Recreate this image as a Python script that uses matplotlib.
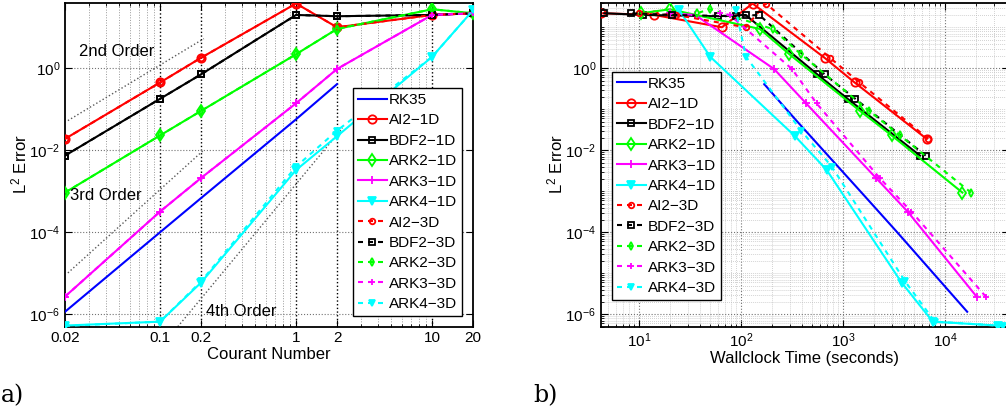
import numpy as np
import matplotlib
matplotlib.use('Agg')
import matplotlib.pyplot as plt
from matplotlib.ticker import FixedLocator, FixedFormatter, LogLocator, NullFormatter

plt.rcParams['font.family'] = ['Liberation Sans', 'DejaVu Sans']
plt.rcParams['mathtext.fontset'] = 'custom'
plt.rcParams['mathtext.rm'] = 'Liberation Sans'
plt.rcParams['mathtext.it'] = 'Liberation Sans:italic'

# Courant numbers (same for every scheme)
courant = [0.02, 0.1, 0.2, 1, 2, 10, 20]
courant_rk = [0.02, 0.1, 0.2, 1, 2]

# L2 errors
err_rk35 = [1.15e-6, 1.0e-4, 6.8e-4, 0.057, 0.41]
err_ai2 = [0.019, 0.45, 1.8, 38, 10, 20, 22]
err_bdf2 = [0.0074, 0.18, 0.71, 20, 18.6, 20, 22]
err_ark2 = [9.3e-4, 0.023, 0.091, 2.2, 9.1, 27.5, 22]
err_ark3 = [2.7e-6, 3.2e-4, 2.1e-3, 0.14, 0.96, 20, 22]
err_ark4 = [5.3e-7, 6.6e-7, 5.9e-6, 3.3e-3, 0.022, 1.9, 26]
err_ark4_3d = [5.2e-7, 6.6e-7, 6.3e-6, 4.0e-3, 0.03, 1.9, 26]

# wallclock times (seconds)
t_rk35 = [16500, 3400, 1700, 340, 169]
t_ai2_1d = [6600, 1300, 660, 130, 65, 14.1, 4.24]
t_ai2_3d = [6860, 1450, 746, 175, 111, 23, 10]
t_bdf2_1d = [5690, 1110, 560, 111, 59, 11, 4.57]
t_bdf2_3d = [6460, 1320, 660, 151, 89, 21, 8.3]
t_ark2_1d = [14800, 3000, 1470, 298, 153, 20.1, 10.5]
t_ark2_3d = [18000, 3620, 1810, 387, 204, 49.7, 36.8]
t_ark3_1d = [20400, 4300, 2110, 434, 211, 35.5, 20]
t_ark3_3d = [25100, 4680, 2290, 550, 316, 77.6, 61.7]
t_ark4_1d = [33100, 7590, 3760, 692, 339, 50, 24.8]
t_ark4_3d = [37000, 7940, 4070, 776, 389, 112, 89]

# reference slopes: coefficient, order, x range
orders = [(120, 2, 0.021, 0.21), (1.1, 3, 0.021, 0.21), (1.5e-3, 4, 0.135, 2.2)]

red, black, green, mag, cyan = (1, 0, 0), (0, 0, 0), (0, 1, 0), (1, 0, 1), (0, 1, 1)
dash = (0, (2.4, 2.4))
series_1d = [
    ('AI2\u22121D', red, 'o', err_ai2, t_ai2_1d),
    ('BDF2\u22121D', black, 's', err_bdf2, t_bdf2_1d),
    ('ARK2\u22121D', green, 'd', err_ark2, t_ark2_1d),
    ('ARK3\u22121D', mag, '+', err_ark3, t_ark3_1d),
    ('ARK4\u22121D', cyan, 'v', err_ark4, t_ark4_1d),
]
series_3d = [
    ('AI2\u22123D', red, 'o', err_ai2, t_ai2_3d),
    ('BDF2\u22123D', black, 's', err_bdf2, t_bdf2_3d),
    ('ARK2\u22123D', green, 'd', err_ark2, t_ark2_3d),
    ('ARK3\u22123D', mag, '+', err_ark3, t_ark3_3d),
    ('ARK4\u22123D', cyan, 'v', err_ark4_3d, t_ark4_3d),
]


def marker_kw(col, mk, small):
    size = 4 if small else (5 if mk == 's' else 6)
    face = col if mk == 'v' else 'none'
    return dict(marker=mk, ms=size, mfc=face, mew=1.3)


fig = plt.figure(figsize=(10.06, 4.12), dpi=100)
bot = (412 - 326.6) / 412
hgt = 324 / 412
ax1 = fig.add_axes([65 / 1006, bot, 408 / 1006, hgt])
ax2 = fig.add_axes([601 / 1006, bot, 408 / 1006, hgt])

yticks = [1e-6, 1e-4, 1e-2, 1]
ylabels = ['$10^{-6}$', '$10^{-4}$', '$10^{-2}$', '$10^{0}$']
leg_kw = dict(loc='upper left', fontsize=11, frameon=True, fancybox=False, edgecolor='k',
              framealpha=1, borderpad=0.3, labelspacing=0.42, handlelength=1.9,
              handletextpad=0.15, borderaxespad=0)

# ---- a) error vs Courant number
ax = ax1
for c, p, x0, x1 in orders:
    xs = np.array([x0, x1])
    ax.plot(xs, c * xs ** p, ls=':', color='0.35', lw=1.0, zorder=2)
ax.plot(courant_rk, err_rk35, color='b', lw=1.5, label='RK35', zorder=3)
for lab, col, mk, e, t in series_1d:
    ax.plot(courant, e, color=col, lw=1.5, label=lab, zorder=3, **marker_kw(col, mk, False))
for lab, col, mk, e, t in series_3d:
    ax.plot(courant, e, color=col, lw=1.5, ls=dash, label=lab, zorder=3, **marker_kw(col, mk, True))
ax.set_xscale('log')
ax.set_yscale('log')
ax.set_xlim(0.02, 20)
ax.set_ylim(5e-7, 40)
ax.xaxis.set_major_locator(FixedLocator(courant))
ax.xaxis.set_major_formatter(FixedFormatter(['0.02', '0.1', '0.2', '1', '2', '10', '20']))
ax.xaxis.set_minor_locator(FixedLocator([0.03, 0.04, 0.05, 0.06, 0.07, 0.08, 0.09,
                                         0.3, 0.4, 0.5, 0.6, 0.7, 0.8, 0.9,
                                         3, 4, 5, 6, 7, 8, 9]))
ax.xaxis.set_minor_formatter(NullFormatter())
ax.yaxis.set_major_locator(FixedLocator(yticks))
ax.yaxis.set_major_formatter(FixedFormatter(ylabels))
ax.yaxis.set_minor_locator(FixedLocator([]))
for xv in [0.1, 0.2, 1, 2, 10]:
    ax.axvline(xv, color='k', ls=':', lw=1.0, zorder=1)
ax.grid(True, which='minor', axis='x', color='0.6', ls=':', lw=0.7, zorder=1)
ax.grid(True, which='major', axis='y', color='0.45', ls=':', lw=0.8, zorder=1)
ax.text(0.0254, 2.5, '2nd Order', fontsize=12, va='center')
ax.text(0.0218, 7.7e-4, '3rd Order', fontsize=12, va='center')
ax.text(0.218, 1.15e-6, '4th Order', fontsize=12, va='center')
ax.set_xlabel('Courant Number', fontsize=12, labelpad=1)
ax.set_ylabel('L$^2$ Error', fontsize=12, labelpad=0)
ax.legend(bbox_to_anchor=(0.706, 0.735), **leg_kw)

# ---- b) error vs wallclock time
ax = ax2
ax.plot(t_rk35, err_rk35, color='b', lw=1.5, label='RK35', zorder=3)
for lab, col, mk, e, t in series_1d:
    ax.plot(t, e, color=col, lw=1.5, label=lab, zorder=3, **marker_kw(col, mk, False))
for lab, col, mk, e, t in series_3d:
    ax.plot(t, e, color=col, lw=1.5, ls=dash, label=lab, zorder=3, **marker_kw(col, mk, True))
ax.set_xscale('log')
ax.set_yscale('log')
ax.set_xlim(4.24, 4.24e4)
ax.set_ylim(5e-7, 40)
ax.xaxis.set_major_locator(FixedLocator([10, 100, 1000, 10000]))
ax.xaxis.set_major_formatter(FixedFormatter(['$10^{1}$', '$10^{2}$', '$10^{3}$', '$10^{4}$']))
ax.xaxis.set_minor_locator(LogLocator(base=10, subs=np.arange(2, 10)))
ax.xaxis.set_minor_formatter(NullFormatter())
ax.yaxis.set_major_locator(FixedLocator(yticks))
ax.yaxis.set_major_formatter(FixedFormatter(ylabels))
ax.yaxis.set_minor_locator(LogLocator(base=10, subs=np.arange(1, 10), numticks=20))
ax.yaxis.set_minor_formatter(NullFormatter())
ax.grid(True, which='major', color='0.45', ls=':', lw=0.8, zorder=1)
ax.grid(True, which='minor', color='0.72', ls=':', lw=0.55, zorder=1)
ax.set_xlabel('Wallclock Time (seconds)', fontsize=12, labelpad=1)
ax.set_ylabel('L$^2$ Error', fontsize=12, labelpad=0)
ax.legend(bbox_to_anchor=(0.027, 0.785), **leg_kw)

for ax in (ax1, ax2):
    ax.tick_params(which='both', direction='in', top=True, right=True, labelsize=11)
    ax.tick_params(which='major', length=5)
    ax.tick_params(which='minor', length=2.5)
    for s in ax.spines.values():
        s.set_linewidth(1.3)
    ax.get_legend().get_frame().set_linewidth(1.0)

fig.text(0.001, 0.04, 'a)', fontsize=17, family='DejaVu Serif', va='center')
fig.text(533 / 1006, 0.04, 'b)', fontsize=17, family='DejaVu Serif', va='center')

fig.savefig('out.png', dpi=100)
